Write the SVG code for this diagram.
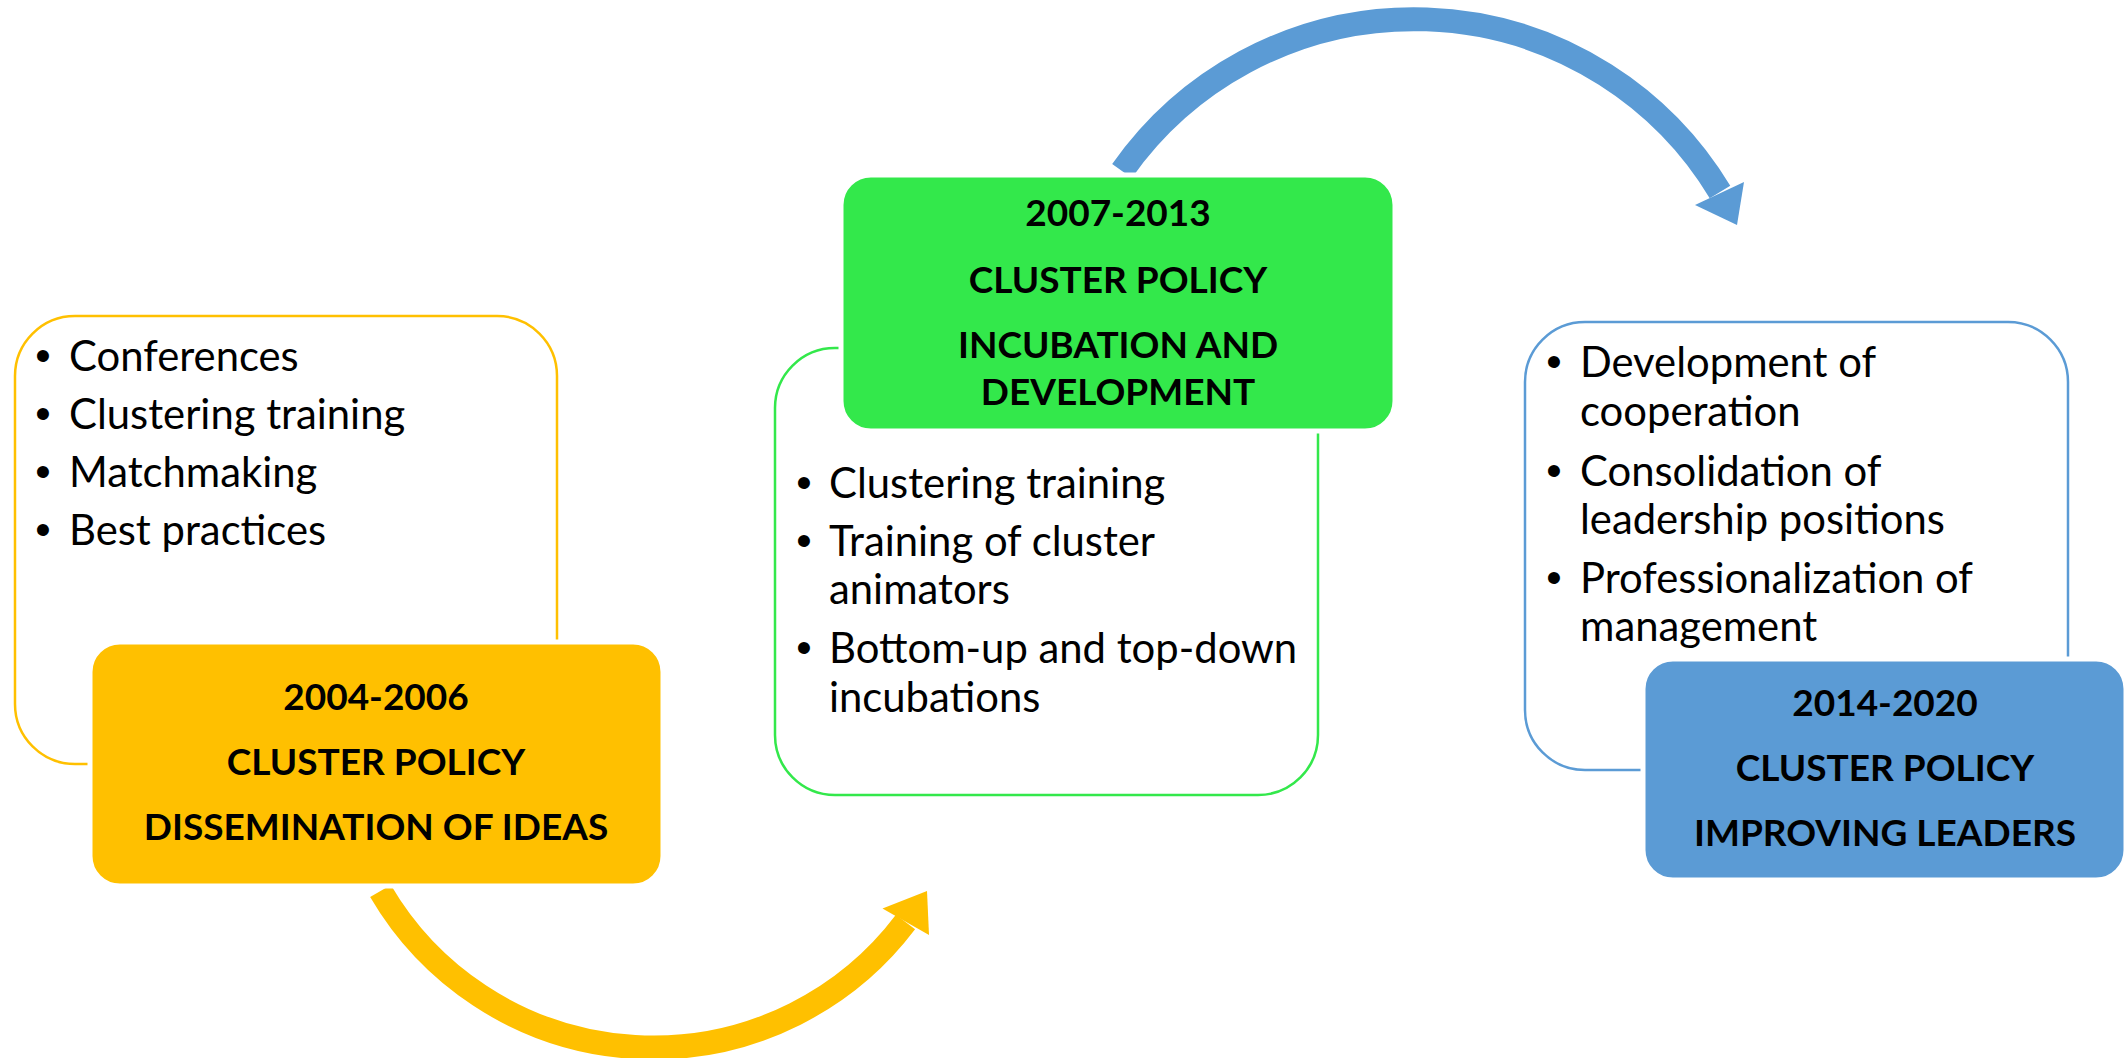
<svg xmlns="http://www.w3.org/2000/svg" width="2128" height="1058" viewBox="0 0 2128 1058">
  <style>
    .body { font-family: Lato, "Liberation Sans", sans-serif; font-size: 41.8px; fill: #000; }
    .bul { font-family: "Liberation Sans", Arial, sans-serif; font-size: 44px; fill: #000; text-anchor: middle; }
    .head { font-family: Lato, "Liberation Sans", sans-serif; font-size: 37px; font-weight: bold; fill: #000; text-anchor: middle; }
    .outline { fill: #fff; stroke-width: 2.5; }
    .filled { stroke: #fff; stroke-width: 5; }
  </style>
  <rect width="2128" height="1058" fill="#fff"/>

  <g id="connectors">
    <g id="arrow-yellow">
      <path d="M 380.5 891 A 316 316 0 0 0 905.5 922" fill="none" stroke="#FFC000" stroke-width="24"/>
      <polygon points="927,891 882.5,908.5 929,935" fill="#FFC000"/>
    </g>
    <g id="arrow-blue">
      <path d="M 1122 171 A 357 357 0 0 1 1720 192" fill="none" stroke="#5B9BD5" stroke-width="24"/>
      <polygon points="1737,225 1695,205 1744,182" fill="#5B9BD5"/>
    </g>
  </g>

  <g id="node-2004-2006">
    <rect class="outline" x="15" y="316" width="542" height="448" rx="60" ry="60" stroke="#FFC000"/>
    <text class="bul" x="43" y="371">•</text>
    <text class="body" x="69" y="371">Conferences</text>
    <text class="bul" x="43" y="429">•</text>
    <text class="body" x="69" y="429">Clustering training</text>
    <text class="bul" x="43" y="487">•</text>
    <text class="body" x="69" y="487">Matchmaking</text>
    <text class="bul" x="43" y="545">•</text>
    <text class="body" x="69" y="545">Best practices</text>
    <rect class="filled" x="90" y="642" width="573" height="244" rx="30" ry="30" fill="#FFC000"/>
    <text class="head" x="376" y="710">2004-2006</text>
    <text class="head" x="376" y="775">CLUSTER POLICY</text>
    <text class="head" x="376" y="840">DISSEMINATION OF IDEAS</text>
  </g>

  <g id="node-2007-2013">
    <rect class="outline" x="775" y="348" width="543" height="447" rx="60" ry="60" stroke="#33E84B"/>
    <text class="bul" x="804" y="498">•</text>
    <text class="body" x="829" y="498">Clustering training</text>
    <text class="bul" x="804" y="556">•</text>
    <text class="body" x="829" y="556">Training of cluster</text>
    <text class="body" x="829" y="604">animators</text>
    <text class="bul" x="804" y="663">•</text>
    <text class="body" x="829" y="663">Bottom-up and top-down</text>
    <text class="body" x="829" y="712">incubations</text>
    <rect class="filled" x="841" y="175" width="554" height="256" rx="30" ry="30" fill="#33E84B"/>
    <text class="head" x="1118" y="226">2007-2013</text>
    <text class="head" x="1118" y="293">CLUSTER POLICY</text>
    <text class="head" x="1118" y="358">INCUBATION AND</text>
    <text class="head" x="1118" y="405">DEVELOPMENT</text>
  </g>

  <g id="node-2014-2020">
    <rect class="outline" x="1525" y="322" width="543" height="448" rx="60" ry="60" stroke="#5B9BD5"/>
    <text class="bul" x="1554" y="377">•</text>
    <text class="body" x="1580" y="377">Development of</text>
    <text class="body" x="1580" y="426">cooperation</text>
    <text class="bul" x="1554" y="486">•</text>
    <text class="body" x="1580" y="486">Consolidation of</text>
    <text class="body" x="1580" y="534">leadership positions</text>
    <text class="bul" x="1554" y="593">•</text>
    <text class="body" x="1580" y="593">Professionalization of</text>
    <text class="body" x="1580" y="641">management</text>
    <rect class="filled" x="1643" y="659" width="483" height="221" rx="30" ry="30" fill="#5B9BD5"/>
    <text class="head" x="1885" y="716">2014-2020</text>
    <text class="head" x="1885" y="781">CLUSTER POLICY</text>
    <text class="head" x="1885" y="846">IMPROVING LEADERS</text>
  </g>
</svg>
